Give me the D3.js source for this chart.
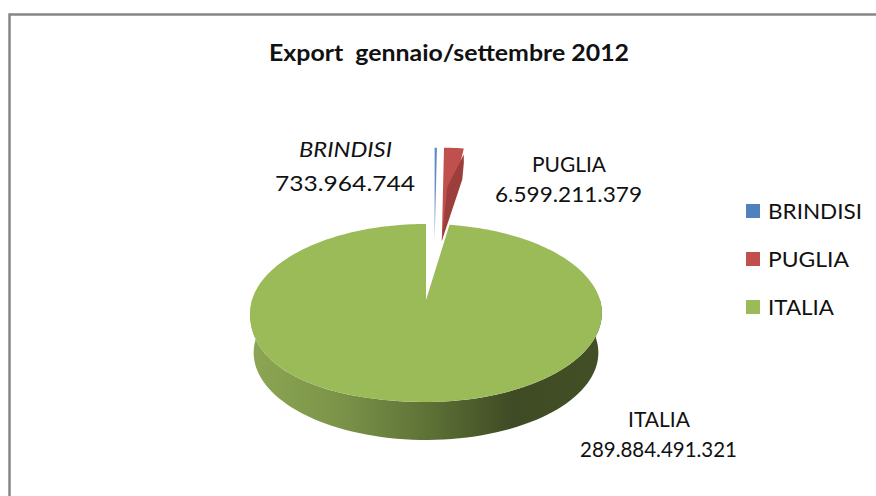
<!DOCTYPE html>
<html><head><meta charset="utf-8">
<script src="https://cdn.jsdelivr.net/npm/d3@7"></script>
<style>html,body{margin:0;padding:0;background:#fff}svg{display:block}text{font-family:Lato,sans-serif;fill:#111}</style>
</head><body><svg width="876" height="496"></svg>
<script>
const categories = ["BRINDISI","PUGLIA","ITALIA"];
const values = [733964744, 6599211379, 289884491321];
const valueLabels = ["733.964.744","6.599.211.379","289.884.491.321"];
const colors = ["#4f81bd","#c0504d","#9bbb59"];
const titleText = "Export  gennaio/settembre 2012";

const svg = d3.select("svg");
const defs = svg.append("defs");
const g = defs.append("linearGradient").attr("id","side").attr("gradientUnits","userSpaceOnUse")
  .attr("x1",250).attr("x2",600).attr("y1",0).attr("y2",0);
[[0,"#8ca654"],[0.25,"#7b9449"],[0.5,"#5f7337"],[0.75,"#3f4b24"],[1,"#424f26"]].forEach(([o,c])=>
  g.append("stop").attr("offset",o).attr("stop-color",c));

// frame
svg.append("path").attr("d","M9.5,496V14.5H876").attr("fill","none").attr("stroke","#868686").attr("stroke-width",2.5);

const arcs = d3.pie().sort(null).value(d=>d)(values);
const k = 0.146;
// perspective projection of a circular pie onto the page
const project = (o,theta)=>{
  const u=Math.sin(theta), v=Math.cos(theta), w=1+k*v;
  // the reference rim sags slightly in its lower-left quadrant
  const sag = (o.sag||0)*Math.max(0,-u)**2*Math.max(0,-v);
  return [o.x+o.b*o.s*u/w, o.y+o.d-o.a*o.s*v/w+sag];
};
const line = d3.line();
const samples = (a0,a1,n)=>d3.range(n+1).map(i=>a0+(a1-a0)*i/n);
const layouts = [
  {x:434.6,y:241,a:107,b:174,s:1,d:0},
  {x:441.8,y:241,a:107,b:163,s:1,d:0},
  {x:426,y:300,a:87.1,b:174,s:1,d:0,sag:12}
];

// ITALIA side
const it = layouts[2];
const low = {...it,s:0.98,d:40,sag:0};
const upper = samples(Math.PI/2-0.02,1.5*Math.PI,80).map(t=>project(it,t));
const lower = samples(1.5*Math.PI,Math.PI/2-0.02,80).map(t=>project(low,t));
svg.append("path").attr("d",line(upper.concat(lower))+"Z").attr("fill","url(#side)");

// PUGLIA top and darker side face
const pu = layouts[1], pa = arcs[1];
const pOuter = project(pu,pa.endAngle);
svg.append("path").attr("d",line(samples(pa.startAngle,pa.endAngle,6).map(t=>project(pu,t)).concat([[pu.x,pu.y]]))+"Z").attr("fill",colors[1]);
const fold = [pu.x+(pOuter[0]-pu.x)*0.58-7.5, pu.y+(pOuter[1]-pu.y)*0.58];
svg.append("path").attr("d",line([[pu.x,pu.y],fold,[pOuter[0],pOuter[1]+6],[pOuter[0],pOuter[1]+15],[pOuter[0]-1.5,pOuter[1]+31]])+"Z").attr("fill","#9c3f3c");

// top surfaces
[0,2].forEach(i=>{
  const a=arcs[i], o=layouts[i];
  const pts=samples(a.startAngle,a.endAngle,i==2?240:3).map(t=>project(o,t));
  pts.push([o.x,o.y]);
  svg.append("path").attr("d",line(pts)+"Z").attr("fill",colors[i]).attr("opacity",i==0?0.9:1);
});

// horizontally stretched text, as in the reference
const put = (x,y,size,w,t,opts={})=>{
  const s=svg.append("text").attr("x",x).attr("y",y).attr("font-size",size)
    .attr("textLength",w).attr("lengthAdjust","spacingAndGlyphs").style("white-space","pre").text(t);
  if(opts.bold) s.attr("font-weight",700);
  if(opts.italic) s.attr("font-style","italic");
  return s;
};

// title
put(269,60.5,22.5,360,titleText,{bold:true});

// labels
const labelPos = [
  {x1:299,w1:93,y1:157,x2:275,w2:140,y2:190.5},
  {x1:532,w1:74,y1:171.5,x2:495,w2:147,y2:202},
  {x1:628,w1:62,y1:427,x2:580,w2:157,y2:456.5}
];
labelPos.forEach((p,i)=>{
  put(p.x1,p.y1,21,p.w1,categories[i],{italic:i==0});
  put(p.x2,p.y2,21,p.w2,valueLabels[i]);
});

// legend
const legendW = [94,81,66];
const ly = d3.scalePoint().domain(categories).range([211,307]);
categories.forEach((c,i)=>{
  svg.append("rect").attr("x",746).attr("y",ly(c)-7).attr("width",14).attr("height",14).attr("fill",colors[i]);
  put(768,ly(c)+8,21,legendW[i],c);
});
</script></body></html>
